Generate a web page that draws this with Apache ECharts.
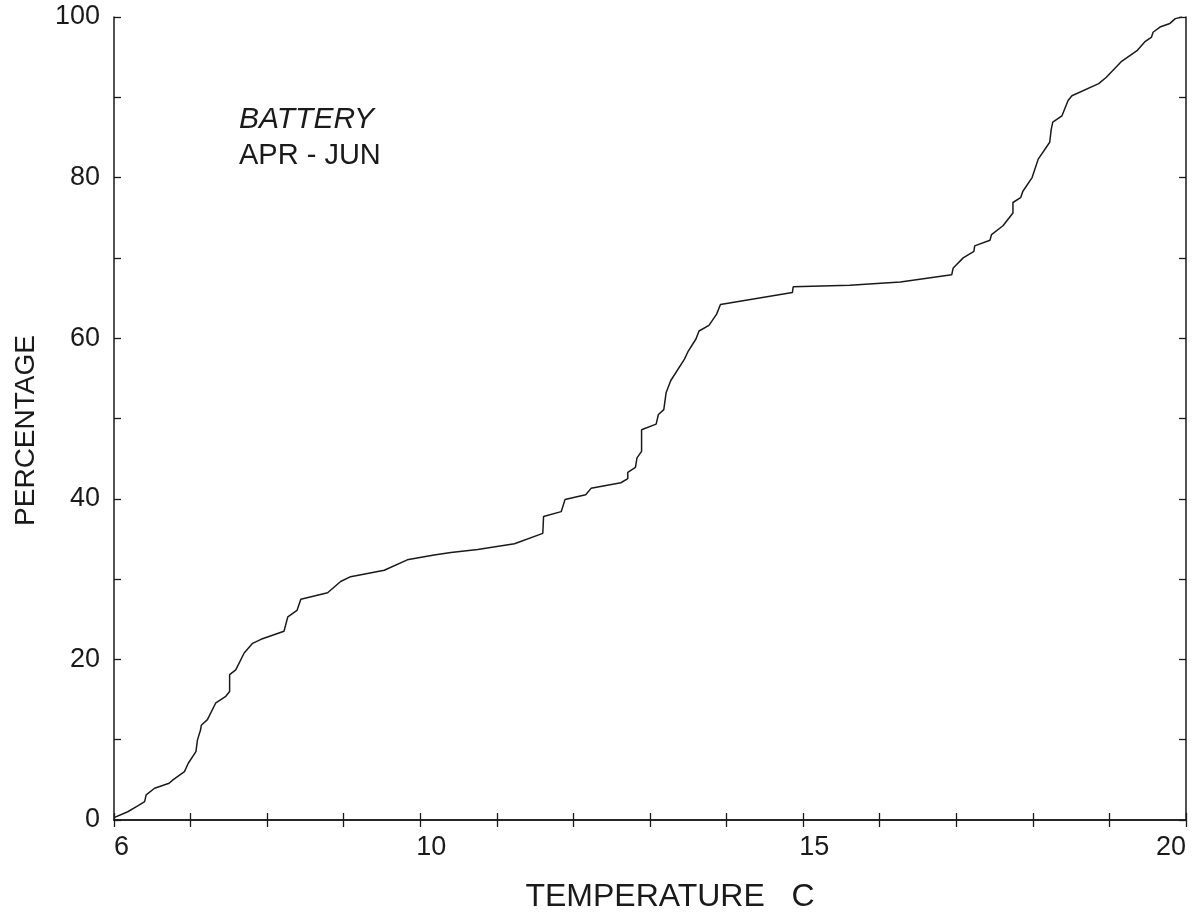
<!DOCTYPE html>
<html>
<head>
<meta charset="utf-8">
<script src="https://cdn.jsdelivr.net/npm/echarts@6/dist/echarts.min.js"></script>
<style>html,body{margin:0;padding:0;background:#fff;}#c{width:1196px;height:919px;}</style>
</head>
<body>
<div id="c"></div>
<script>
// Temperature (C) values along the cumulative curve
const temps = [6.0, 6.18, 6.31, 6.40, 6.42, 6.53, 6.72, 6.77, 6.92, 6.97, 7.07, 7.09, 7.13, 7.14, 7.22, 7.33, 7.46, 7.51, 7.51, 7.59, 7.70, 7.81, 7.92, 8.22, 8.27, 8.39, 8.44, 8.79, 8.96, 9.09, 9.53, 9.83, 10.18, 10.40, 10.75, 11.23, 11.60, 11.61, 11.84, 11.89, 12.16, 12.23, 12.62, 12.71, 12.71, 12.81, 12.83, 12.89, 12.89, 13.08, 13.11, 13.18, 13.21, 13.27, 13.45, 13.50, 13.60, 13.64, 13.77, 13.87, 13.92, 14.86, 14.87, 15.61, 16.27, 16.94, 16.96, 17.09, 17.23, 17.24, 17.44, 17.46, 17.61, 17.74, 17.74, 17.84, 17.87, 17.99, 18.07, 18.22, 18.24, 18.26, 18.38, 18.46, 18.51, 18.86, 18.96, 19.15, 19.36, 19.46, 19.55, 19.57, 19.66, 19.79, 19.86, 19.95];
// Cumulative percentage values
const percents = [0.3, 1.03, 1.75, 2.28, 3.12, 3.95, 4.58, 4.99, 6.02, 7.07, 8.52, 9.98, 11.2, 11.8, 12.5, 14.6, 15.4, 16.0, 18.1, 18.7, 20.8, 22.0, 22.5, 23.5, 25.3, 26.1, 27.5, 28.3, 29.7, 30.3, 31.1, 32.4, 33.0, 33.3, 33.7, 34.4, 35.7, 37.8, 38.4, 39.9, 40.5, 41.3, 42.0, 42.5, 43.3, 43.9, 45.1, 45.9, 48.6, 49.3, 50.5, 51.1, 53.2, 54.7, 57.4, 58.4, 59.9, 60.9, 61.6, 63.0, 64.2, 65.7, 66.4, 66.6, 67.0, 67.9, 68.75, 70.0, 70.8, 71.5, 72.2, 72.9, 74.0, 75.6, 76.9, 77.5, 78.3, 80.0, 82.3, 84.4, 86.0, 86.9, 87.7, 89.6, 90.2, 91.7, 92.5, 94.4, 95.8, 96.9, 97.5, 98.1, 98.75, 99.2, 99.8, 100];
const xTickLabels = [6, 10, 15, 20];
const yTickLabels = [0, 20, 40, 60, 80, 100];
const xTitle = 'TEMPERATURE   C';
const yTitle = 'PERCENTAGE';
const noteLine1 = 'BATTERY';
const noteLine2 = 'APR - JUN';

const FONT = '"Liberation Sans", Arial, sans-serif';
const INK = '#1a1a1a';
const chart = echarts.init(document.getElementById('c'), null, {renderer: 'canvas'});

const axisLineStyle = {show: true, lineStyle: {color: INK, width: 1.5}};
const inTicks = {show: true, inside: true, length: 7, lineStyle: {color: INK, width: 1.3}};
const xMin = 6, xMax = 20;

chart.setOption({
  animation: false,
  backgroundColor: '#fff',
  grid: {left: 114, right: 10, top: 17, bottom: 99, containLabel: false, outerBoundsMode: 'none'},
  xAxis: [
    {
      type: 'value', min: xMin, max: xMax, interval: 1, position: 'bottom',
      axisLine: axisLineStyle, axisTick: inTicks, splitLine: {show: false},
      axisLabel: {
        show: true, margin: 14, color: INK, fontFamily: FONT, fontSize: 27,
        alignMinLabel: 'left', alignMaxLabel: 'right',
        formatter: v => {
          if (xTickLabels.indexOf(v) < 0) return '';
          if (v === xMin || v === xMax) return String(v);
          return '{m|' + v + '}';
        },
        rich: {m: {fontFamily: FONT, fontSize: 27, color: INK, padding: [0, 0, 0, 22]}}
      },
      name: xTitle, nameLocation: 'middle', nameGap: 61,
      nameTextStyle: {color: INK, fontFamily: FONT, fontSize: 32, padding: [0, 0, 0, 40]}
    },
    {
      type: 'value', min: xMin, max: xMax, interval: 1, position: 'top',
      axisLine: axisLineStyle, axisTick: inTicks, axisLabel: {show: false}, splitLine: {show: false}
    }
  ],
  yAxis: [
    {
      type: 'value', min: 0, max: 100, interval: 10, position: 'left',
      axisLine: axisLineStyle, axisTick: inTicks, splitLine: {show: false},
      axisLabel: {
        show: true, margin: 14, color: INK, fontFamily: FONT, fontSize: 27,
        formatter: v => yTickLabels.indexOf(v) >= 0 ? String(v) : ''
      },
      name: yTitle, nameLocation: 'middle', nameGap: 74,
      nameTextStyle: {color: INK, fontFamily: FONT, fontSize: 28, padding: [0, 24, 0, 0]}
    },
    {
      type: 'value', min: 0, max: 100, interval: 10, position: 'right',
      axisLine: axisLineStyle, axisTick: inTicks, axisLabel: {show: false}, splitLine: {show: false}
    }
  ],
  series: [{
    type: 'line',
    xAxisIndex: 0, yAxisIndex: 0,
    data: temps.map((t, i) => [t, percents[i]]),
    showSymbol: false, symbol: 'none',
    lineStyle: {color: INK, width: 1.5},
    smooth: false
  }],
  graphic: [
    {type: 'text', left: 239, top: 105, style: {text: noteLine1, fill: INK, fontFamily: FONT, fontSize: 30, fontStyle: 'italic'}},
    {type: 'text', left: 239, top: 141, style: {text: noteLine2, fill: INK, fontFamily: FONT, fontSize: 29}}
  ]
});
</script>
</body>
</html>
